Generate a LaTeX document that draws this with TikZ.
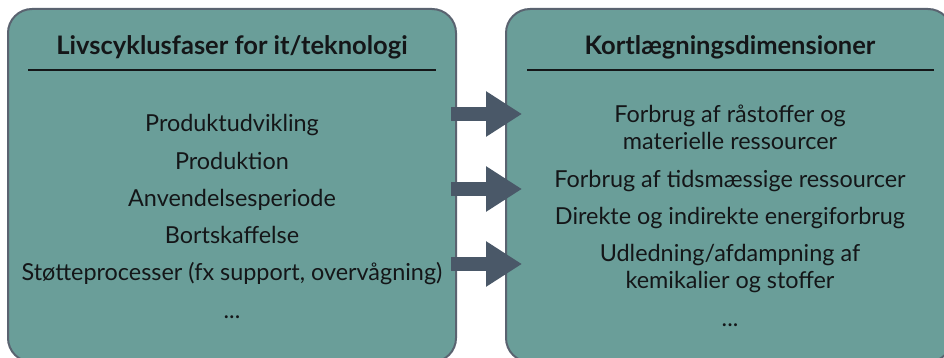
\documentclass[tikz,border=0pt]{standalone}
\usepackage{fontspec}
\setmainfont{Lato}
\usepackage{xcolor}
\definecolor{boxfill}{RGB}{106,158,153}
\definecolor{boxline}{RGB}{90,99,112}
\definecolor{arrowcol}{RGB}{74,88,104}
\definecolor{ink}{RGB}{20,22,24}
\usetikzlibrary{positioning, calc, arrows.meta}
\tikzstyle{Panel} = [
draw=boxline, line width=2pt, fill=boxfill,
rounded corners=24pt, inner sep=0pt,
minimum height=353pt]
\tikzstyle{Title} = [text=ink, inner sep=0pt, anchor=base,
font=\fontsize{25.5}{30}\selectfont\bfseries]
\tikzstyle{Item} = [text=ink, inner sep=0pt, anchor=base,
font=\fontsize{23.4}{28}\selectfont]
\tikzstyle{BlockArrow} = [
arrowcol, line width=14pt,
-{Triangle[length=36pt, width=43pt]}]

\begin{document}
\begin{tikzpicture}[x=1pt, y=-1pt]
        \useasboundingbox (0,0) rectangle (944,358);
        \clip (0,0) rectangle (944,358);
        \node [Panel, minimum width=448pt] (lbox) at (232,185.5) {};
        \node [Panel, minimum width=446pt] (rbox) at (729,185.5) {};

        \node [Title] (ltitle) at (232,55) {Livscyklusfaser for it/teknologi};
        \node [Title] (rtitle) at (730,55) {Kortlægningsdimensioner};
        \coordinate (lrule1) at ([xshift=21pt]lbox.west |- 0,70);
        \coordinate (lrule2) at ([xshift=-21pt]lbox.east |- 0,70);
        \coordinate (rrule1) at ([xshift=22pt]rbox.west |- 0,70);
        \coordinate (rrule2) at ([xshift=-19pt]rbox.east |- 0,70);
        \draw [ink, line width=2pt] (lrule1) -- (lrule2);
        \draw [ink, line width=2pt] (rrule1) -- (rrule2);

        \foreach \txt [count=\i] in {Produktudvikling, Produktion,
          Anvendelsesperiode, Bortskaffelse,
          {Støtteprocesser (fx support, overvågning)}}
          \node [Item] (phase\i) at (232, 132+37.2*\i-37.2) {\txt};
        \node [Item] (phase6) at (232,318) {...};

        \node [Item] (dim1) at (730,123) {Forbrug af råstoffer og};
        \node [Item] (dim1b) at (730,150) {materielle ressourcer};
        \node [Item] (dim2) at (730,187) {Forbrug af tidsmæssige ressourcer};
        \node [Item] (dim3) at (730,224) {Direkte og indirekte energiforbrug};
        \node [Item] (dim4) at (730,261) {Udledning/afdampning af};
        \node [Item] (dim4b) at (730,288) {kemikalier og stoffer};
        \node [Item] (dim5) at (730,326) {...};

        \foreach \y in {114,189,264}
          \draw [BlockArrow] ([xshift=-6pt]lbox.east |- 0,\y) -- ([xshift=17pt]rbox.west |- 0,\y);
\end{tikzpicture}
\end{document}
